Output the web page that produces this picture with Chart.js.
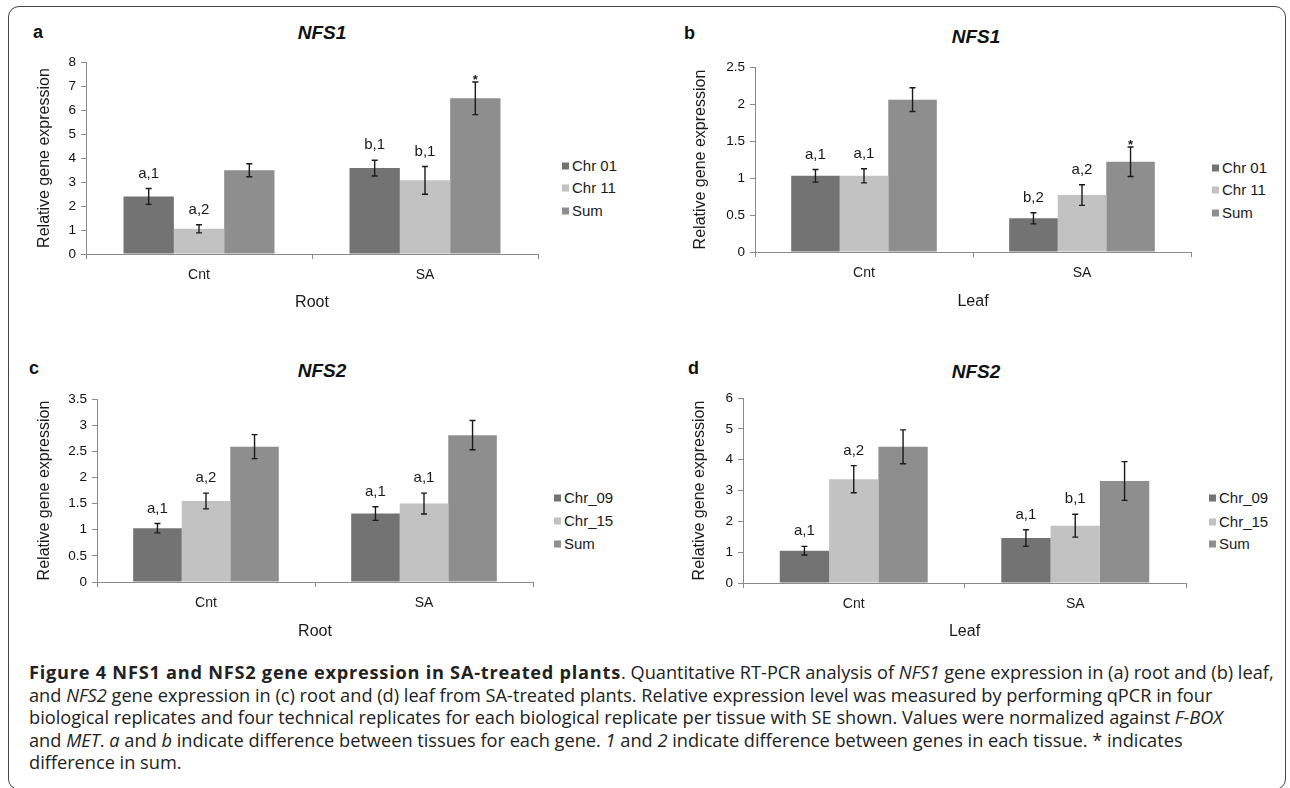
<!DOCTYPE html>
<html>
<head>
<meta charset="utf-8">
<script src="https://cdn.jsdelivr.net/npm/chart.js@4.4.1/dist/chart.umd.min.js"></script>
<style>
  html, body { margin: 0; padding: 0; background: #fff; }
  body { width: 1290px; height: 788px; position: relative; overflow: hidden; font-family: "Liberation Sans", Arial, sans-serif; }
  .frame { position: absolute; left: 8px; top: 6px; width: 1278px; height: 784px; border: 1.5px solid #444; border-radius: 11px; box-sizing: border-box; }
  .panel-canvas { position: absolute; }
  .letter { position: absolute; font-weight: bold; font-size: 18px; color: #111; transform: translateY(-50%); }
  .title { position: absolute; font-weight: bold; font-style: italic; font-size: 19px; color: #111; transform: translate(-50%, -50%); white-space: nowrap; }
  .legend { position: absolute; font-size: 15px; color: #1a1a1a; }
  .legend div { position: absolute; white-space: nowrap; transform: translateY(-50%); }
  .legend span { display: inline-block; width: 7px; height: 7px; margin-right: 3px; vertical-align: 1px; }
  #caption { position: absolute; left: 29px; top: 661px; font-family: "Open Sans", "Noto Sans", sans-serif; font-size: 18.2px; line-height: 22.5px; color: #222; white-space: nowrap; }
  #caption b { letter-spacing: 0.75px; }
</style>
</head>
<body>
<div class="frame"></div>

<div class="letter" style="left:33px; top:32px;">a</div>
<div class="letter" style="left:684px; top:33px;">b</div>
<div class="letter" style="left:29px; top:368px;">c</div>
<div class="letter" style="left:688px; top:368px;">d</div>

<div class="title" style="left:322px; top:33px;">NFS1</div>
<div class="title" style="left:976px; top:37px;">NFS1</div>
<div class="title" style="left:322px; top:371px;">NFS2</div>
<div class="title" style="left:976px; top:372px;">NFS2</div>

<canvas id="chartA" class="panel-canvas"></canvas>
<canvas id="chartB" class="panel-canvas"></canvas>
<canvas id="chartC" class="panel-canvas"></canvas>
<canvas id="chartD" class="panel-canvas"></canvas>

<div class="legend" id="legendA"></div>
<div class="legend" id="legendB"></div>
<div class="legend" id="legendC"></div>
<div class="legend" id="legendD"></div>

<div id="caption"><b>Figure 4 NFS1 and NFS2 gene expression in SA-treated plants</b>. Quantitative RT-PCR analysis of <i>NFS1</i> gene expression in (a) root and (b) leaf,<br>and <i>NFS2</i> gene expression in (c) root and (d) leaf from SA-treated plants. Relative expression level was measured by performing qPCR in four<br>biological replicates and four technical replicates for each biological replicate per tissue with SE shown. Values were normalized against <i>F-BOX</i><br>and <i>MET</i>. <i>a</i> and <i>b</i> indicate difference between tissues for each gene. <i>1</i> and <i>2</i> indicate difference between genes in each tissue. * indicates<br>difference in sum.</div>

<script>
// ─── Data ────────────────────────────────────────────────────────
const treatments = ['Cnt', 'SA'];
const nfs1Genes = ['Chr 01', 'Chr 11', 'Sum'];
const nfs2Genes = ['Chr_09', 'Chr_15', 'Sum'];

// (a) NFS1, root
const rootNfs1Values = [[2.40, 3.58], [1.05, 3.07], [3.49, 6.49]];
const rootNfs1Errors = [[0.33, 0.33], [0.17, 0.58], [0.27, 0.68]];
const rootNfs1Marks  = [['a,1', 'b,1'], ['a,2', 'b,1'], ['', '*']];

// (b) NFS1, leaf
const leafNfs1Values = [[1.03, 0.455], [1.03, 0.77], [2.06, 1.22]];
const leafNfs1Errors = [[0.085, 0.075], [0.095, 0.14], [0.16, 0.20]];
const leafNfs1Marks  = [['a,1', 'b,2'], ['a,1', 'a,2'], ['', '*']];

// (c) NFS2, root
const rootNfs2Values = [[1.03, 1.31], [1.55, 1.50], [2.59, 2.81]];
const rootNfs2Errors = [[0.09, 0.13], [0.15, 0.20], [0.23, 0.28]];
const rootNfs2Marks  = [['a,1', 'a,1'], ['a,2', 'a,1'], ['', '']];

// (d) NFS2, leaf
const leafNfs2Values = [[1.05, 1.46], [3.37, 1.86], [4.42, 3.31]];
const leafNfs2Errors = [[0.14, 0.27], [0.44, 0.37], [0.55, 0.63]];
const leafNfs2Marks  = [['a,1', 'a,1'], ['a,2', 'b,1'], ['', '']];

const barColors = ['#737373', '#c2c2c2', '#8e8e8e'];
const axisColor = '#8a8a8a';

Chart.defaults.font.family = '"Liberation Sans", Arial, sans-serif';
Chart.defaults.color = '#222';
Chart.defaults.animation = false;

// error bars + significance letters drawn on top of bars
const errorBars = {
  id: 'errorBars',
  afterDatasetsDraw(chart) {
    const { ctx, scales: { y } } = chart;
    chart.data.datasets.forEach((ds, i) => {
      const meta = chart.getDatasetMeta(i);
      meta.data.forEach((bar, j) => {
        const v = ds.data[j], e = ds.errors[j];
        const top = y.getPixelForValue(v + e);
        const bot = y.getPixelForValue(v - e);
        ctx.save();
        ctx.strokeStyle = '#1a1a1a';
        ctx.lineWidth = 1.4;
        ctx.beginPath();
        ctx.moveTo(bar.x, top); ctx.lineTo(bar.x, bot);
        ctx.moveTo(bar.x - 3, top); ctx.lineTo(bar.x + 3, top);
        ctx.moveTo(bar.x - 3, bot); ctx.lineTo(bar.x + 3, bot);
        ctx.stroke();
        const mark = ds.marks[j];
        if (mark) {
          ctx.fillStyle = '#1a1a1a';
          ctx.textAlign = 'center';
          if (mark === '*') {
            ctx.font = 'bold 13px "Liberation Sans", Arial, sans-serif';
            ctx.textBaseline = 'alphabetic';
            ctx.fillText(mark, bar.x, top + 2);
          } else {
            ctx.font = '15px "Liberation Sans", Arial, sans-serif';
            ctx.textBaseline = 'middle';
            ctx.fillText(mark, bar.x, top - 15);
          }
        }
        ctx.restore();
      });
    });
  }
};

function makePanel(id, box, genes, values, errors, marks, yMax, yStep, tissue) {
  const el = document.getElementById(id);
  el.style.left = box.left + 'px';
  el.style.top = box.top + 'px';
  el.style.width = box.width + 'px';
  el.style.height = box.height + 'px';
  el.width = box.width;
  el.height = box.height;

  return new Chart(el, {
    type: 'bar',
    data: {
      labels: treatments,
      datasets: genes.map((g, i) => ({
        label: g,
        data: values[i],
        errors: errors[i],
        marks: marks[i],
        backgroundColor: barColors[i],
        borderWidth: 0,
        categoryPercentage: 0.668,
        barPercentage: 1.0
      }))
    },
    options: {
      responsive: false,
      maintainAspectRatio: false,
      layout: { padding: { left: 0, top: 12, right: 12, bottom: 0 } },
      plugins: { legend: { display: false }, tooltip: { enabled: false }, title: { display: false } },
      scales: {
        x: {
          grid: { offset: true, drawOnChartArea: false, tickLength: 5, color: axisColor },
          border: { color: axisColor, width: 1 },
          ticks: { padding: 8, font: { size: 14 }, color: '#1a1a1a' },
          title: { display: true, text: tissue, font: { size: 16 }, color: '#1a1a1a', padding: { top: 0, bottom: 4 } },
          afterFit: s => { s.height = box.xh; }
        },
        y: {
          min: 0, max: yMax,
          ticks: { stepSize: yStep, padding: 5, font: { size: 13.5 }, color: '#111',
                   callback: v => String(Number(v.toFixed(2))) },
          grid: { drawOnChartArea: false, tickLength: 5, color: axisColor },
          border: { color: axisColor, width: 1 },
          title: { display: true, text: 'Relative gene expression', font: { size: 16 }, color: '#1a1a1a', padding: { top: 4, bottom: 0 } },
          afterFit: s => { s.width = box.yw; }
        }
      }
    },
    plugins: [errorBars]
  });
}

function makeLegend(id, genes, left, ys) {
  const el = document.getElementById(id);
  el.style.left = left + 'px';
  el.style.top = '0px';
  genes.forEach((g, i) => {
    const row = document.createElement('div');
    row.style.top = ys[i] + 'px';
    row.innerHTML = `<span style="background:${barColors[i]}"></span>${g}`;
    el.appendChild(row);
  });
}

makePanel('chartA', { left: 31, top: 49, width: 519, height: 267, yw: 55, xh: 62 },
  nfs1Genes, rootNfs1Values, rootNfs1Errors, rootNfs1Marks, 8, 1, 'Root');
makePanel('chartB', { left: 687, top: 54, width: 516, height: 261, yw: 68, xh: 63 },
  nfs1Genes, leafNfs1Values, leafNfs1Errors, leafNfs1Marks, 2.5, 0.5, 'Leaf');
makePanel('chartC', { left: 31, top: 386, width: 514, height: 259, yw: 66, xh: 63 },
  nfs2Genes, rootNfs2Values, rootNfs2Errors, rootNfs2Marks, 3.5, 0.5, 'Root');
makePanel('chartD', { left: 686, top: 385, width: 512, height: 260, yw: 57, xh: 62 },
  nfs2Genes, leafNfs2Values, leafNfs2Errors, leafNfs2Marks, 6, 1, 'Leaf');

makeLegend('legendA', nfs1Genes, 562, [165, 187, 210]);
makeLegend('legendB', nfs1Genes, 1212, [167, 189, 212]);
makeLegend('legendC', nfs2Genes, 554, [497, 520, 543]);
makeLegend('legendD', nfs2Genes, 1209, [497, 521, 543]);
</script>
</body>
</html>
